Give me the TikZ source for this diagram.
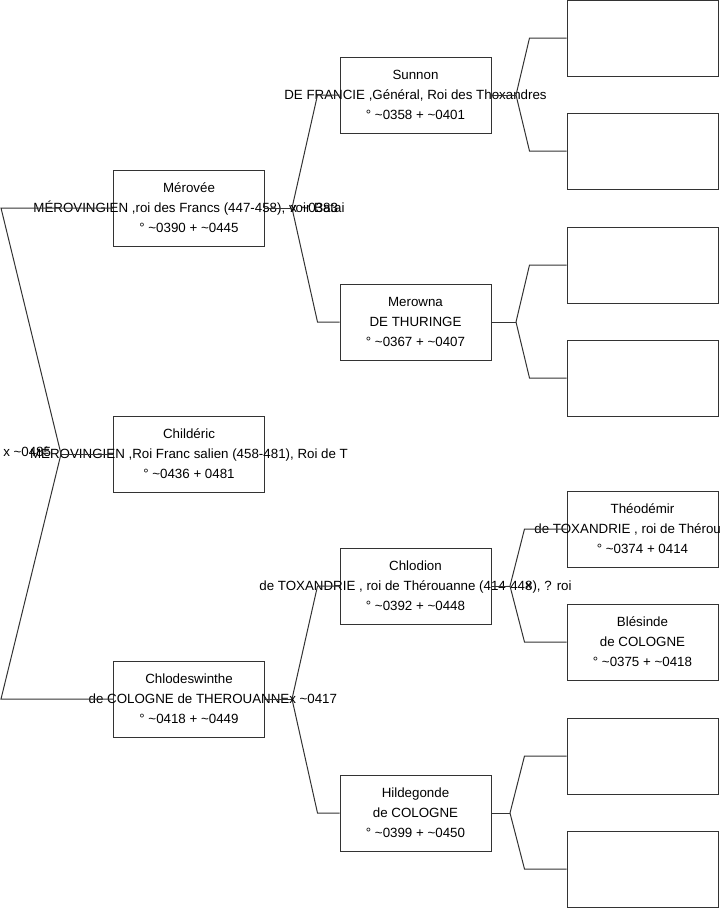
\documentclass[tikz,border=0pt]{standalone}
\usepackage{fontspec}
\setmainfont{Liberation Sans}

\begin{document}
\begin{tikzpicture}[
    x=0.75pt, y=-0.75pt,
    person/.style={draw=black!80, line width=0.75pt, minimum width=113.25pt, minimum height=57pt, inner sep=0pt},
    ptext/.style={align=center, inner sep=0pt, font=\fontsize{10}{15}\selectfont},
    wed/.style={anchor=west, inner sep=0pt, font=\fontsize{10}{12}\selectfont},
    link/.style={draw=black!80, line width=0.75pt}
]
\useasboundingbox (0,0) rectangle (719,908);

\node[person] (merovee) at (189,208) {};
\node[person] (childeric) at (189,454) {};
\node[person] (chlodeswinthe) at (189,699) {};

\node[person] (sunnon) at (415.5,95) {};
\node[person] (merowna) at (415.5,322) {};
\node[person] (chlodion) at (415.5,586) {};
\node[person] (hildegonde) at (415.5,813) {};

\node[person] (sunnon-f) at (642.5,38) {};
\node[person] (sunnon-m) at (642.5,151) {};
\node[person] (merowna-f) at (642.5,265) {};
\node[person] (merowna-m) at (642.5,378) {};
\node[person] (theodemir) at (642.5,529) {};
\node[person] (blesinde) at (642.5,642) {};
\node[person] (hildegonde-f) at (642.5,756) {};
\node[person] (hildegonde-m) at (642.5,869) {};

\node[ptext] (merovee-t) at (merovee) {
    Mérovée\\
    MÉROVINGIEN ,roi des Francs (447-458), voir Batai\\
    ° \textasciitilde0390 + \textasciitilde0445
};
\node[ptext] (childeric-t) at (childeric) {
    Childéric\\
    MÉROVINGIEN ,Roi Franc salien (458-481), Roi de T\\
    ° \textasciitilde0436 + 0481
};
\node[ptext] (chlodeswinthe-t) at (chlodeswinthe) {
    Chlodeswinthe\\
    de COLOGNE de THEROUANNE\\
    ° \textasciitilde0418 + \textasciitilde0449
};
\node[ptext] (sunnon-t) at (sunnon) {
    Sunnon\\
    DE FRANCIE ,Général, Roi des Thoxandres\\
    ° \textasciitilde0358 + \textasciitilde0401
};
\node[ptext] (merowna-t) at (merowna) {
    Merowna\\
    DE THURINGE\\
    ° \textasciitilde0367 + \textasciitilde0407
};
\node[ptext] (chlodion-t) at (chlodion) {
    Chlodion\\
    de TOXANDRIE , roi de Thérouanne (414-448), ? roi\\
    ° \textasciitilde0392 + \textasciitilde0448
};
\node[ptext] (hildegonde-t) at (hildegonde) {
    Hildegonde\\
    de COLOGNE\\
    ° \textasciitilde0399 + \textasciitilde0450
};
\node[ptext] (theodemir-t) at (theodemir) {
    Théodémir\\
    de TOXANDRIE , roi de Thérou\phantom{anne}\\
    ° \textasciitilde0374 + 0414
};
\node[ptext] (blesinde-t) at (blesinde) {
    Blésinde\\
    de COLOGNE\\
    ° \textasciitilde0375 + \textasciitilde0418
};

\coordinate (root) at (61,454);
\draw[link] (childeric.west) -- (root);
\draw[link] (merovee.west) -- ++(-112,0) -- (root);
\draw[link] (chlodeswinthe.west) -- ++(-112,0) -- (root);

\coordinate (mer) at (292,208);
\draw[link] (merovee.east) -- (mer);
\draw[link] (sunnon.west) -- ++(-22,0) -- (mer);
\draw[link] (merowna.west) -- ++(-22,0) -- (mer);

\coordinate (chl) at (292,699);
\draw[link] (chlodeswinthe.east) -- (chl);
\draw[link] (chlodion.west) -- ++(-22,0) -- (chl);
\draw[link] (hildegonde.west) -- ++(-22,0) -- (chl);

\coordinate (sun) at (516,95);
\draw[link] (sunnon.east) -- (sun);
\draw[link] (sunnon-f.west) -- ++(-37,0) -- (sun);
\draw[link] (sunnon-m.west) -- ++(-37,0) -- (sun);

\coordinate (mrw) at (516,322);
\draw[link] (merowna.east) -- (mrw);
\draw[link] (merowna-f.west) -- ++(-37,0) -- (mrw);
\draw[link] (merowna-m.west) -- ++(-37,0) -- (mrw);

\coordinate (cld) at (510,586);
\draw[link] (chlodion.east) -- (cld);
\draw[link] (theodemir.west) -- ++(-42,0) -- (cld);
\draw[link] (blesinde.west) -- ++(-42,0) -- (cld);

\coordinate (hil) at (510,813);
\draw[link] (hildegonde.east) -- (hil);
\draw[link] (hildegonde-f.west) -- ++(-42,0) -- (hil);
\draw[link] (hildegonde-m.west) -- ++(-42,0) -- (hil);

\node[wed] (childeric-x) at (3,452) {x \textasciitilde0485};
\node[wed] (merovee-x) at (290,208) {x \textasciitilde0383};
\node[wed] (chlodeswinthe-x) at (289,699) {x \textasciitilde0417};
\node[wed] (chlodion-x) at (525,586) {x};

\end{tikzpicture}
\end{document}
